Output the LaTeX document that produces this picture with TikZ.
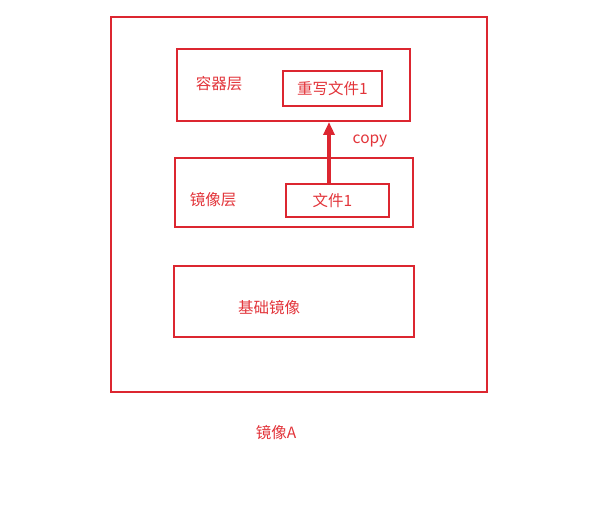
\documentclass[tikz,border=0pt]{standalone}
\usepackage{fontspec}
\setmainfont{Noto Sans CJK SC}
\usetikzlibrary{arrows.meta}
\definecolor{boxred}{RGB}{220,38,48}
\definecolor{textred}{RGB}{226,52,58}

\begin{document}
\begin{tikzpicture}[x=1pt, y=-1pt,
    box/.style={draw=boxred, line width=2pt, inner sep=0pt},
    lbl/.style={text=textred, font=\fontsize{15.5}{18}\selectfont, inner sep=0pt}]
    \useasboundingbox (0,0) rectangle (599,526);
    % outer image
    \node[box, minimum width=376pt, minimum height=375pt] (imageA) at (299,204.5) {};
    \node[lbl] (imageAlbl) at (276,433) {镜像A};

    % container layer
    \node[box, minimum width=233pt, minimum height=72pt] (container) at (293.5,85) {};
    \node[lbl] (containerlbl) at (219,84) {容器层};
    \node[box, lbl, draw=boxred, minimum width=99pt, minimum height=35pt] (rewrite) at (332.5,88.5) {重写文件1};

    % image layer
    \node[box, minimum width=238pt, minimum height=69pt] (imagelayer) at (294,192.5) {};
    \node[lbl] (imagelayerlbl) at (213,200) {镜像层};
    \node[box, lbl, draw=boxred, minimum width=103pt, minimum height=33pt] (file) at (337.5,200.5) {\hspace*{-10pt}文件1};

    % base image
    \node[box, minimum width=240pt, minimum height=71pt] (base) at (294,301.5) {};
    \node[lbl] (baselbl) at (269,308) {基础镜像};

    % copy up
    \coordinate (copyStart) at (329,184);
    \draw[boxred, line width=3.2pt, -{Triangle[length=13pt, width=11pt]}]
        (copyStart) -- (container.south -| copyStart);
    \node[lbl] (copylbl) at (370,141) {copy};
\end{tikzpicture}
\end{document}
